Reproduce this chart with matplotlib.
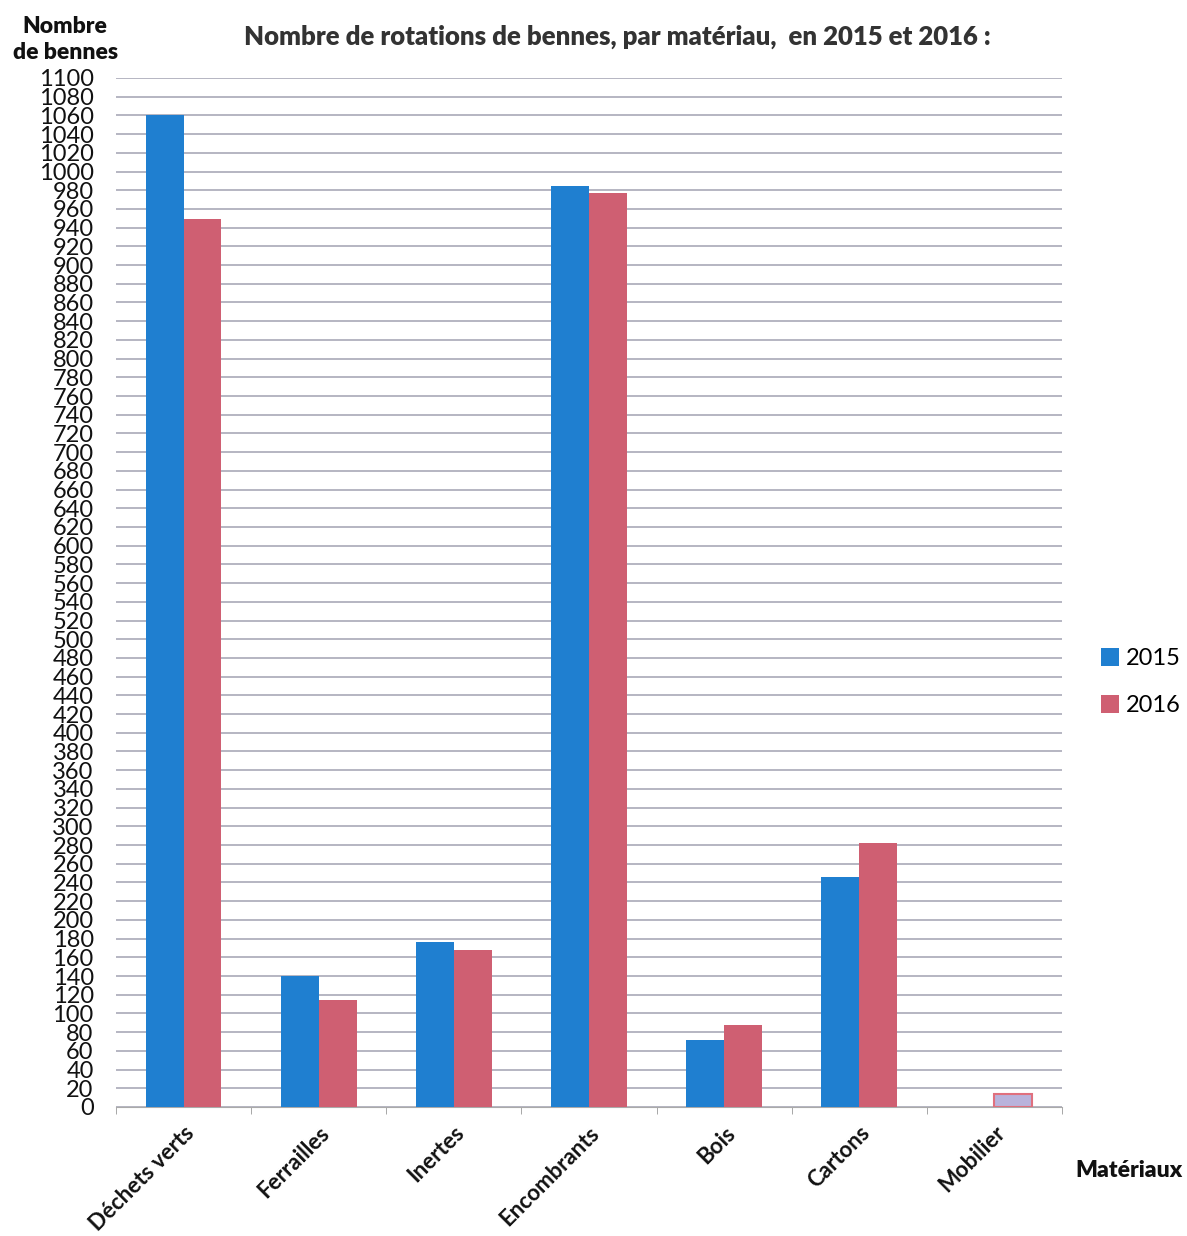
import matplotlib
matplotlib.use("Agg")
import matplotlib.pyplot as plt
import numpy as np

categories = ["Déchets verts", "Ferrailles", "Inertes", "Encombrants", "Bois", "Cartons", "Mobilier"]
values_2015 = [1060, 140, 176, 985, 72, 246, 0]
values_2016 = [949, 114, 168, 977, 88, 282, 14]
years = ["2015", "2016"]
y_ticks = list(range(0, 1101, 20))

plt.rcParams["font.family"] = ["Lato", "DejaVu Sans"]

fig = plt.figure(figsize=(11.87, 12.36), dpi=100)
ax = fig.add_axes([0.0977, 0.1044, 0.797, 0.8325])

x = np.arange(len(categories))
w = 0.28
b1 = ax.bar(x - w / 2, values_2015, w, color="#1f7fd0", label=years[0], zorder=3)
b2 = ax.bar(x + w / 2, values_2016, w, color="#cf5f72", label=years[1], zorder=3)
# the small Mobilier bar is drawn pale with a red outline
b2[-1].set_facecolor("#b9b3dc")
b2[-1].set_edgecolor("#e0707e")
b2[-1].set_linewidth(1.5)

ax.set_xlim(-0.5, len(categories) - 0.5)
ax.set_ylim(0, 1100)
ax.set_yticks(y_ticks)
ax.set_yticklabels([str(v) for v in y_ticks], fontsize=17, color="#111111")
ax.tick_params(axis="y", length=0, pad=16)
ax.yaxis.grid(True, color="#a9a9b8", linewidth=1.2, zorder=0)
ax.set_axisbelow(True)

ax.set_xticks(x)
ax.set_xticklabels(categories, rotation=45, ha="right", rotation_mode="anchor",
                   fontsize=16, fontweight="bold", color="#111111")
ax.tick_params(axis="x", length=0, pad=11)
ax.set_xticks(np.arange(-0.5, len(categories), 1), minor=True)
ax.tick_params(axis="x", which="minor", length=5, color="#999999")

for s in ["top", "right", "left"]:
    ax.spines[s].set_visible(False)
ax.spines["bottom"].set_color("#aaaaaa")

fig.text(0.52, 0.970, "Nombre de rotations de bennes, par matériau,  en 2015 et 2016 :",
         ha="center", va="center", fontsize=18.5, fontweight="heavy", color="#333333")
fig.text(0.055, 0.968, "Nombre\nde bennes", ha="center", va="center",
         fontsize=16.5, fontweight="heavy", color="#111111", linespacing=1.3)
fig.text(0.951, 0.053, "Matériaux", ha="center", va="center",
         fontsize=16.5, fontweight="heavy", color="#111111")

fig.legend(handles=[b1, b2], labels=years, loc="center left",
           bbox_to_anchor=(0.91, 0.448), frameon=False, fontsize=17,
           handlelength=0.75, handleheight=0.75, handletextpad=0.3,
           labelspacing=1.1)

fig.savefig("out.png", dpi=100, facecolor="white")
